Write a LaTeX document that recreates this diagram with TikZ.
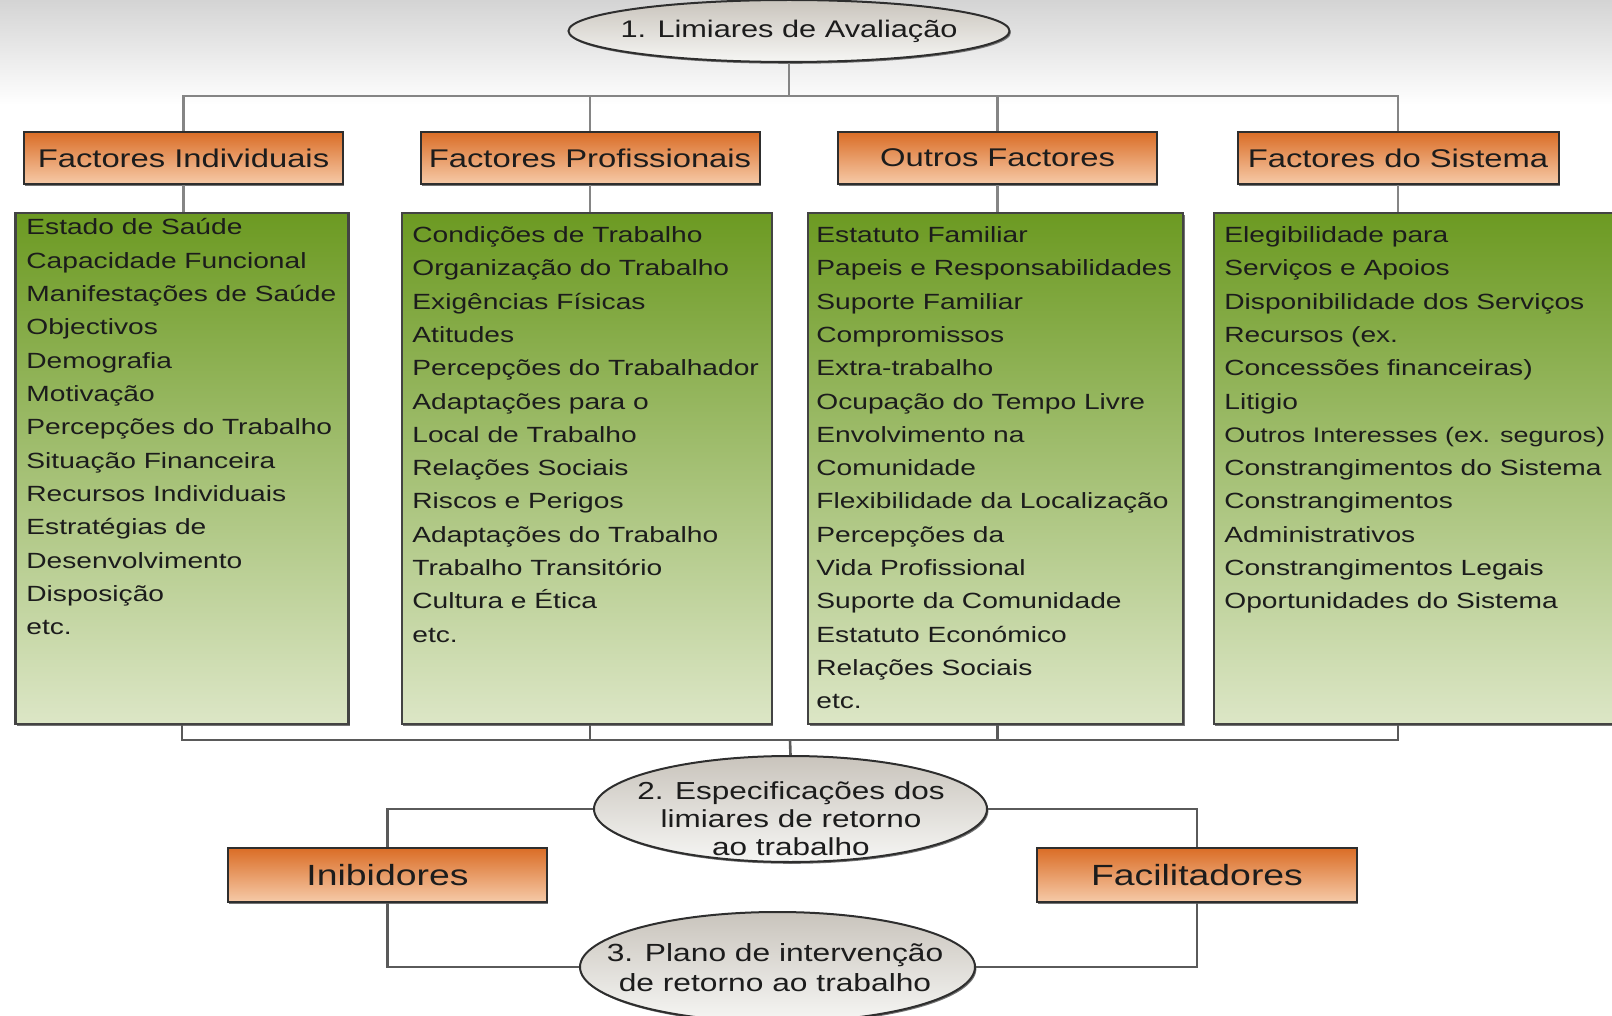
\documentclass[tikz,border=0pt]{standalone}
\usepackage{fontspec}
\setmainfont{Liberation Sans}[FakeStretch=1.28]
\usetikzlibrary{shapes.geometric,shadows}

\definecolor{txt}{HTML}{1C1C1C}
\definecolor{boxline}{HTML}{2E2E2E}
\definecolor{orangetop}{HTML}{DA6D26}
\definecolor{orangebot}{HTML}{F6CAA8}
\definecolor{greentop}{HTML}{6C9A22}
\definecolor{greenbot}{HTML}{DCE6C6}
\definecolor{ovaltop}{HTML}{C9C4BC}
\definecolor{ovalbot}{HTML}{F6F6F4}
\definecolor{linktop}{HTML}{858585}
\definecolor{linkbot}{HTML}{5A5A5A}
\definecolor{haze}{HTML}{D4D4D4}

\begin{document}
\begin{tikzpicture}[x=0.5pt,y=-0.5pt,
  shadowed/.style={drop shadow={shadow xshift=0.7pt,shadow yshift=-0.9pt,fill=black!55,opacity=1}},
  hdr/.style={rectangle,draw=boxline,line width=1pt,top color=orangetop,bottom color=orangebot,
    inner sep=0pt,minimum height=26pt,text=txt,font=\fontsize{12.8}{14}\selectfont,shadowed},
  bighdr/.style={hdr,minimum height=27pt,font=\fontsize{14.6}{16}\selectfont},
  listbox/.style={rectangle,draw=boxline!90,line width=1.1pt,top color=greentop,bottom color=greenbot,
    inner sep=0pt,minimum height=255.5pt,shadowed},
  oval/.style={ellipse,draw=boxline,line width=1pt,top color=ovaltop,bottom color=ovalbot,
    inner sep=0pt,shadowed},
  ovaltext/.style={align=center,inner sep=0pt,text=txt},
  item/.style={anchor=base west,inner sep=0pt,text=txt,font=\fontsize{11}{13}\selectfont},
  linkA/.style={draw=linktop,line width=1.4pt},
  linkB/.style={draw=linkbot,line width=1.3pt}]

\useasboundingbox (0,0) rectangle (1612,1016);
\shade[top color=haze,bottom color=white] (0,0) rectangle (1612,105);

% top oval and the four headings
\node[oval,minimum width=220.5pt,minimum height=31pt] (e1) at (789,31) {};
\node[ovaltext,font=\fontsize{12}{14}\selectfont] (t1) at (789,31) {1. Limiares de Avaliação};

\node[hdr,minimum width=159.5pt] (o1) at (183.5,158) {Factores Individuais};
\node[hdr,minimum width=169.5pt] (o2) at (590,158) {Factores Profissionais};
\node[hdr,minimum width=159.5pt] (o3) at (997.5,158) {Outros Factores};
\node[hdr,minimum width=160.5pt] (o4) at (1398,158) {Factores do Sistema};

% list boxes
\node[listbox,minimum width=166.5pt] (g1) at (182,468.3) {};
\node[listbox,minimum width=185pt] (g2) at (587,468.3) {};
\node[listbox,minimum width=187.5pt] (g3) at (995.7,468.3) {};
\node[listbox,minimum width=213pt] (g4) at (1427,468.3) {};

\foreach [count=\i from 0] \t in {Estado de Saúde,Capacidade Funcional,Manifestações de Saúde,Objectivos,Demografia,Motivação,Percepções do Trabalho,Situação Financeira,Recursos Individuais,Estratégias de,Desenvolvimento,Disposição,etc.}
  \node[item] (a\i) at (26,{235+\i*33.3}) {\t};

\foreach [count=\i from 0] \t in {Condições de Trabalho,Organização do Trabalho,Exigências Físicas,Atitudes,Percepções do Trabalhador,Adaptações para o,Local de Trabalho,Relações Sociais,Riscos e Perigos,Adaptações do Trabalho,Trabalho Transitório,Cultura e Ética,etc.}
  \node[item] (b\i) at (412,{242.5+\i*33.3}) {\t};

\foreach [count=\i from 0] \t in {Estatuto Familiar,Papeis e Responsabilidades,Suporte Familiar,Compromissos,Extra-trabalho,Ocupação do Tempo Livre,Envolvimento na,Comunidade,Flexibilidade da Localização,Percepções da,Vida Profissional,Suporte da Comunidade,Estatuto Económico,Relações Sociais,etc.}
  \node[item] (c\i) at (816,{242.5+\i*33.3}) {\t};

\foreach [count=\i from 0] \t in {Elegibilidade para,Serviços e Apoios,Disponibilidade dos Serviços,Recursos (ex.,Concessões financeiras),Litigio,{\fontsize{10.55}{13}\selectfont Outros Interesses (ex. seguros)},Constrangimentos do Sistema,Constrangimentos,Administrativos,Constrangimentos Legais,Oportunidades do Sistema}
  \node[item] (d\i) at (1224,{242.5+\i*33.3}) {\t};

% lower ovals and the two side boxes
\node[oval,minimum width=196.5pt,minimum height=53pt] (e2) at (790.5,809) {};
\node[ovaltext,font=\fontsize{12.3}{14}\selectfont] (t2) at (791,819)
  {2. Especificações dos\\limiares de retorno\\ao trabalho};
\node[oval,minimum width=197.5pt,minimum height=55pt] (e3) at (777.5,967) {};
\node[ovaltext,font=\fontsize{12.4}{15}\selectfont] (t3) at (775,968)
  {3. Plano de intervenção\\de retorno ao trabalho};

\node[bighdr,minimum width=159.5pt] (inib) at (387.5,875) {Inibidores};
\node[bighdr,minimum width=160pt] (facil) at (1197,875) {Facilitadores};

% connectors
\coordinate (topbus) at (789,96);
\coordinate (botbus) at (790,740);
\draw[linkA] (e1.south) -- (topbus);
\draw[linkA] (o1.north) |- (topbus);
\draw[linkA] (o4.north) |- (topbus);
\draw[linkA] (o2.north) -- (o2.north |- topbus);
\draw[linkA] (o3.north) -- (o3.north |- topbus);
\draw[linkA] (o1.south) -- (o1.south |- g1.north);
\draw[linkA] (o2.south) -- (o2.south |- g2.north);
\draw[linkA] (o3.south) -- (o3.south |- g3.north);
\draw[linkA] (o4.south) -- (o4.south |- g4.north);

\draw[linkB] (g1.south) |- (botbus);
\draw[linkB] (o4.south |- g4.south) |- (botbus);
\draw[linkB] (o2.south |- g2.south) -- (o2.south |- botbus);
\draw[linkB] (o3.south |- g3.south) -- (o3.south |- botbus);
\draw[linkB] (botbus) -- (e2.north);

\draw[linkB] (e2.west) -| (inib.north);
\draw[linkB] (e2.east) -| (facil.north);
\draw[linkB] (inib.south) |- (e3.west);
\draw[linkB] (facil.south) |- (e3.east);
\end{tikzpicture}
\end{document}
